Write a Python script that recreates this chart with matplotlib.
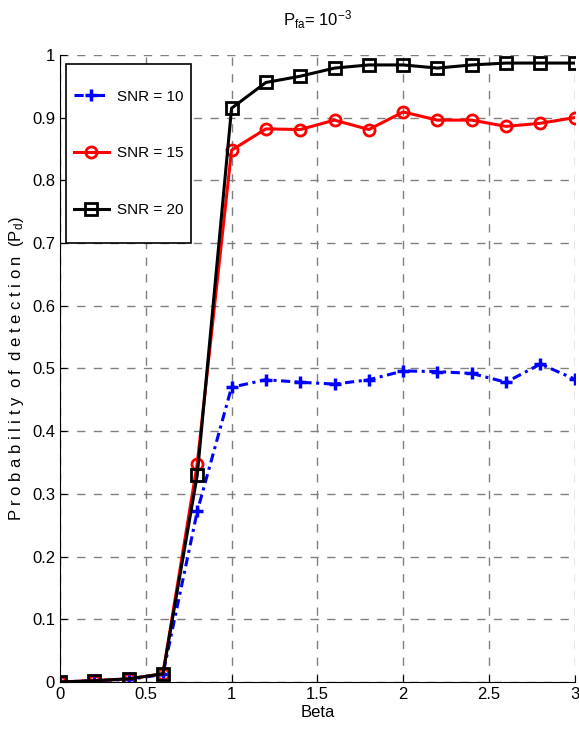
import numpy as np
import matplotlib
matplotlib.use('Agg')
import matplotlib.pyplot as plt
from matplotlib.patches import Rectangle

plt.rcParams['font.family'] = 'Liberation Sans'

beta = [0, 0.2, 0.4, 0.6, 0.8, 1.0, 1.2, 1.4, 1.6, 1.8, 2.0, 2.2, 2.4, 2.6, 2.8, 3.0]
pd_snr10 = [0.0, 0.002, 0.004, 0.012, 0.272, 0.470, 0.482, 0.478, 0.475, 0.482, 0.496, 0.495, 0.492, 0.478, 0.507, 0.483]
pd_snr15 = [0.0, 0.002, 0.005, 0.013, 0.348, 0.848, 0.882, 0.881, 0.896, 0.881, 0.909, 0.896, 0.896, 0.886, 0.891, 0.900]
pd_snr20 = [0.0, 0.002, 0.005, 0.013, 0.330, 0.915, 0.956, 0.966, 0.979, 0.984, 0.984, 0.979, 0.984, 0.987, 0.987, 0.987]

fig = plt.figure(figsize=(5.79, 7.36), dpi=100)
ax = fig.add_axes([0.1036, 0.0734, 0.889, 0.852])

ax.plot(beta, pd_snr10, color='b', linestyle=(0, (3, 1.5, 1, 1.5)), linewidth=2.2, marker='+',
        markersize=9, markeredgewidth=2.5, label='SNR = 10')
ax.plot(beta, pd_snr15, color='r', linestyle='-', linewidth=2.2, marker='o',
        markersize=8, markerfacecolor='none', markeredgewidth=2, label='SNR = 15')
ax.plot(beta, pd_snr20, color='k', linestyle='-', linewidth=2.2, marker='s',
        markersize=8, markerfacecolor='none', markeredgewidth=2, label='SNR = 20')

ax.set_xlim(0, 3)
ax.set_ylim(0, 1)
ax.set_xticks(np.arange(0, 3.01, 0.5))
ax.set_xticklabels(['0', '0.5', '1', '1.5', '2', '2.5', '3'])
ax.set_yticks(np.arange(0, 1.01, 0.1))
ax.set_yticklabels(['0', '0.1', '0.2', '0.3', '0.4', '0.5', '0.6', '0.7', '0.8', '0.9', '1'])
ax.tick_params(direction='in', labelsize=12, length=5)
ax.grid(True, linestyle=(0, (6, 6)), color='#808080', linewidth=1)
ax.spines['top'].set_visible(False)
ax.spines['right'].set_visible(False)

ax.set_xlabel('Beta', fontsize=12, labelpad=2)
ax.set_ylabel('P r o b a b i l i t y  o f  d e t e c t i o n  ($\\mathregular{P_d}$)', fontsize=12, labelpad=4)
ax.set_title('$\\mathregular{P_{fa}}$= $\\mathregular{10^{-3}}$', fontsize=12, pad=21)

# legend without frame, then a taller white box behind it (matlab style)
leg = ax.legend(loc='upper left', bbox_to_anchor=(0.012, 0.957), borderaxespad=0,
                fontsize=11, frameon=False, labelspacing=2.8, borderpad=0.5,
                handlelength=2.3, handletextpad=0.5)
leg.set_zorder(6)
fig.canvas.draw()
bb = leg.get_window_extent().transformed(fig.transFigure.inverted())
extra = 18 / 736
box = Rectangle((bb.x0, bb.y0 - extra), bb.width, bb.height + 2 * extra,
                transform=fig.transFigure, facecolor='white', edgecolor='k',
                linewidth=1.2, zorder=5, clip_on=False)
ax.add_patch(box)

fig.savefig('out.png', dpi=100)
